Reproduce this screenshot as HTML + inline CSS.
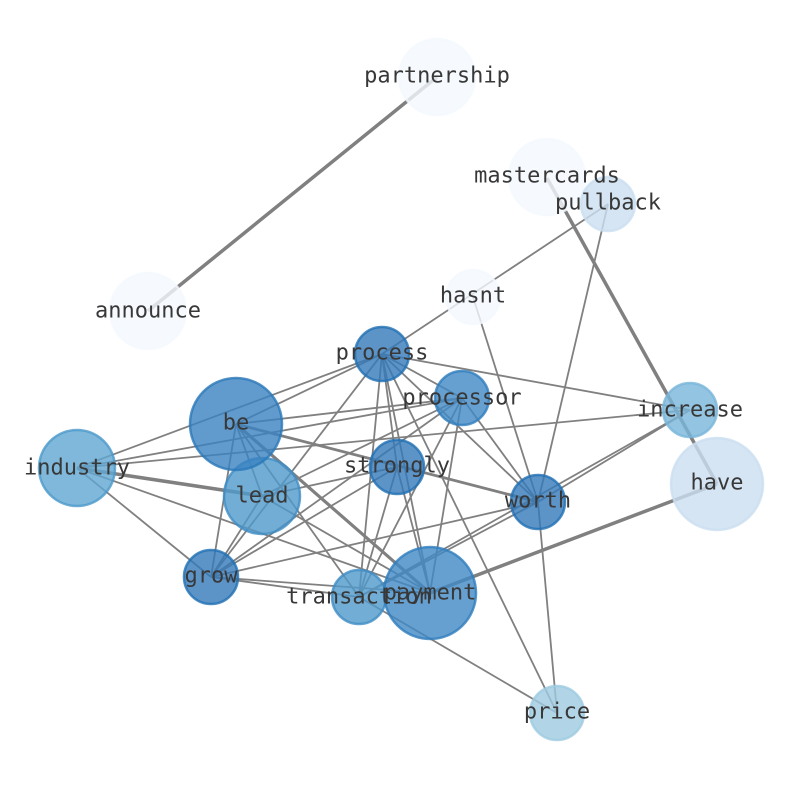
<!DOCTYPE html>
<html><head><meta charset="utf-8"><style>
html,body{margin:0;padding:0;background:#fff;}
svg text{font-family:"DejaVu Sans Mono","Liberation Mono",monospace;font-size:22px;fill:#383838;text-anchor:middle;dominant-baseline:central;}
</style></head><body>
<svg width="794" height="790" viewBox="0 0 794 790" xmlns="http://www.w3.org/2000/svg">
<g stroke="#808080" stroke-width="1.8" fill="none">
<line x1="437" y1="77" x2="148" y2="311" stroke-width="3.5"/>
<line x1="547" y1="178" x2="717" y2="484" stroke-width="3.5"/>
<line x1="608" y1="204" x2="382" y2="354"/>
<line x1="608" y1="204" x2="538" y2="502"/>
<line x1="473" y1="297" x2="538" y2="502"/>
<line x1="382" y1="354" x2="690" y2="410"/>
<line x1="382" y1="354" x2="77" y2="468"/>
<line x1="382" y1="354" x2="211" y2="577"/>
<line x1="382" y1="354" x2="359" y2="597"/>
<line x1="382" y1="354" x2="430" y2="593"/>
<line x1="382" y1="354" x2="538" y2="502"/>
<line x1="382" y1="354" x2="557" y2="713"/>
<line x1="382" y1="354" x2="462" y2="398"/>
<line x1="382" y1="354" x2="397" y2="467"/>
<line x1="462" y1="398" x2="236" y2="424"/>
<line x1="462" y1="398" x2="77" y2="468"/>
<line x1="462" y1="398" x2="211" y2="577"/>
<line x1="462" y1="398" x2="262" y2="496"/>
<line x1="462" y1="398" x2="430" y2="593"/>
<line x1="462" y1="398" x2="538" y2="502"/>
<line x1="462" y1="398" x2="359" y2="597"/>
<line x1="236" y1="424" x2="382" y2="354"/>
<line x1="236" y1="424" x2="538" y2="502" stroke-width="2.8"/>
<line x1="236" y1="424" x2="430" y2="593" stroke-width="3.2"/>
<line x1="236" y1="424" x2="211" y2="577"/>
<line x1="236" y1="424" x2="262" y2="496"/>
<line x1="236" y1="424" x2="359" y2="597"/>
<line x1="77" y1="468" x2="262" y2="496" stroke-width="3.5"/>
<line x1="77" y1="468" x2="211" y2="577"/>
<line x1="77" y1="468" x2="430" y2="593"/>
<line x1="77" y1="468" x2="690" y2="410"/>
<line x1="262" y1="496" x2="397" y2="467"/>
<line x1="262" y1="496" x2="430" y2="593"/>
<line x1="262" y1="496" x2="211" y2="577"/>
<line x1="397" y1="467" x2="359" y2="597"/>
<line x1="397" y1="467" x2="430" y2="593"/>
<line x1="397" y1="467" x2="211" y2="577"/>
<line x1="538" y1="502" x2="211" y2="577"/>
<line x1="538" y1="502" x2="359" y2="597"/>
<line x1="538" y1="502" x2="690" y2="410"/>
<line x1="538" y1="502" x2="557" y2="713"/>
<line x1="359" y1="597" x2="690" y2="410"/>
<line x1="717" y1="484" x2="430" y2="593" stroke-width="3.5"/>
<line x1="211" y1="577" x2="359" y2="597"/>
<line x1="211" y1="577" x2="430" y2="593"/>
<line x1="359" y1="597" x2="557" y2="713"/>
</g>
<g stroke-width="2.5" fill-opacity="0.8" stroke-opacity="0.8">
<circle cx="437" cy="77" r="38" fill="#f4f9fe" stroke="#f4f9fe"/>
<circle cx="547" cy="177" r="38" fill="#f4f9fe" stroke="#f4f9fe"/>
<circle cx="148" cy="311" r="38" fill="#f4f9fe" stroke="#f4f9fe"/>
<circle cx="473" cy="297" r="27" fill="#f4f9fe" stroke="#f4f9fe"/>
<circle cx="608" cy="204" r="27" fill="#cadef0" stroke="#cadef0"/>
<circle cx="717" cy="484" r="46" fill="#cadef0" stroke="#cadef0"/>
<circle cx="557" cy="713" r="27" fill="#9ecae1" stroke="#9ecae1"/>
<circle cx="690" cy="410" r="27" fill="#78b5d9" stroke="#78b5d9"/>
<circle cx="77" cy="468" r="38" fill="#5fa6d1" stroke="#4b98ca"/>
<circle cx="262" cy="496" r="38" fill="#4f98ca" stroke="#3f8cc4"/>
<circle cx="359" cy="597" r="27" fill="#4f98ca" stroke="#3f8cc4"/>
<circle cx="430" cy="593" r="46" fill="#3f88c4" stroke="#2f7dbd"/>
<circle cx="462" cy="398" r="27" fill="#3f88c4" stroke="#2f7dbd"/>
<circle cx="236" cy="424" r="46" fill="#3a82c0" stroke="#2a78b9"/>
<circle cx="382" cy="354" r="27" fill="#3379ba" stroke="#206fb3"/>
<circle cx="397" cy="467" r="27" fill="#3379ba" stroke="#206fb3"/>
<circle cx="538" cy="502" r="27" fill="#3379ba" stroke="#206fb3"/>
<circle cx="211" cy="577" r="27" fill="#3379ba" stroke="#206fb3"/>
</g>
<g>
<text x="437" y="76">partnership</text>
<text x="547" y="176">mastercards</text>
<text x="608" y="203">pullback</text>
<text x="148" y="311">announce</text>
<text x="473" y="296">hasnt</text>
<text x="382" y="353">process</text>
<text x="462" y="398">processor</text>
<text x="236" y="423">be</text>
<text x="690" y="410">increase</text>
<text x="77" y="468">industry</text>
<text x="397" y="466">strongly</text>
<text x="262" y="496">lead</text>
<text x="538" y="501">worth</text>
<text x="717" y="483">have</text>
<text x="211" y="576">grow</text>
<text x="359" y="597">transaction</text>
<text x="430" y="593">payment</text>
<text x="557" y="712">price</text>
</g>
</svg>
</body></html>
